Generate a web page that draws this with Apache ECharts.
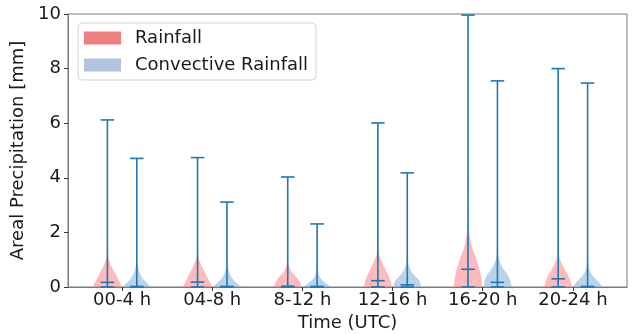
<!DOCTYPE html>
<html>
<head>
<meta charset="utf-8">
<script src="https://cdn.jsdelivr.net/npm/echarts@6/dist/echarts.min.js"></script>
<style>
  html, body { margin: 0; padding: 0; background: #fff; }
  #main { width: 640px; height: 334px; }
</style>
</head>
<body>
<div id="main"></div>
<script>
// time windows
var categories = ['00-4 h', '04-8 h', '8-12 h', '12-16 h', '16-20 h', '20-24 h'];

// extrema + means (mm)
var rainMin = [0, 0, 0, 0, 0, 0];
var rainMax = [6.12, 4.74, 4.03, 6.01, 9.96, 8.0];
var rainMean = [0.17, 0.18, 0.03, 0.23, 0.65, 0.3];
var convMin = [0, 0, 0, 0, 0, 0];
var convMax = [4.71, 3.11, 2.31, 4.18, 7.55, 7.47];
var convMean = [0.02, 0.02, 0.02, 0.08, 0.17, 0.02];

// violin outline: relative half-width at each level (mm)
var densityLevels = [0, 0.1, 0.2, 0.3, 0.4, 0.5, 0.6, 0.8, 1.0, 1.2, 1.5, 2.0, 2.5];
var rainDensity = [
  [1.0, 0.95, 0.86, 0.76, 0.65, 0.54, 0.45, 0.25, 0.1, 0.04, 0.02, 0.01, 0.005],
  [1.0, 0.95, 0.86, 0.76, 0.66, 0.55, 0.46, 0.27, 0.11, 0.04, 0.02, 0.01, 0.005],
  [1.0, 0.93, 0.84, 0.72, 0.55, 0.35, 0.22, 0.09, 0.03, 0.015, 0.01, 0.005, 0],
  [1.0, 0.97, 0.92, 0.86, 0.78, 0.68, 0.58, 0.4, 0.22, 0.09, 0.03, 0.01, 0.005],
  [1.0, 1.0, 0.98, 0.96, 0.93, 0.89, 0.84, 0.72, 0.6, 0.46, 0.25, 0.07, 0.015],
  [1.0, 0.96, 0.9, 0.83, 0.74, 0.63, 0.5, 0.3, 0.14, 0.05, 0.02, 0.01, 0.005]
];
var convDensity = [
  [1.0, 0.82, 0.62, 0.45, 0.32, 0.22, 0.15, 0.07, 0.03, 0.01, 0.005, 0, 0],
  [1.0, 0.8, 0.58, 0.4, 0.27, 0.18, 0.11, 0.05, 0.02, 0.008, 0, 0, 0],
  [1.0, 0.72, 0.45, 0.28, 0.15, 0.08, 0.04, 0.015, 0.005, 0, 0, 0, 0],
  [1.0, 0.96, 0.88, 0.75, 0.55, 0.38, 0.25, 0.1, 0.04, 0.015, 0.005, 0, 0],
  [1.0, 0.98, 0.93, 0.87, 0.78, 0.66, 0.5, 0.28, 0.12, 0.04, 0.015, 0.005, 0],
  [1.0, 0.92, 0.76, 0.56, 0.38, 0.25, 0.15, 0.06, 0.02, 0.01, 0.005, 0, 0]
];

var lineColor = '#1f77b4';
var halfW = 0.155;   // violin half width (x units)
var capHalf = 0.075; // extrema / mean cap half width

function violinRenderer(offset, dens, mins, maxs, means, fill) {
  return function (params, api) {
    var i = api.value(0);
    var pos = i + 1 + offset;
    var d = dens[i];
    var right = [], left = [];
    for (var k = 0; k < densityLevels.length; k++) {
      var y = densityLevels[k];
      right.push(api.coord([pos + halfW * d[k], y]));
      left.unshift(api.coord([pos - halfW * d[k], y]));
    }
    right.push(api.coord([pos, maxs[i]]));
    var poly = right.concat(left);
    var st = { stroke: lineColor, lineWidth: 1.6 };
    function hline(v) {
      var a = api.coord([pos - capHalf, v]);
      var b = api.coord([pos + capHalf, v]);
      return { type: 'line', shape: { x1: a[0], y1: a[1], x2: b[0], y2: b[1] }, style: st };
    }
    var top = api.coord([pos, maxs[i]]);
    var bot = api.coord([pos, mins[i]]);
    return {
      type: 'group',
      children: [
        { type: 'polygon', shape: { points: poly }, style: { fill: fill, stroke: null } },
        { type: 'line', shape: { x1: top[0], y1: top[1], x2: bot[0], y2: bot[1] }, style: st },
        hline(maxs[i]),
        hline(mins[i]),
        hline(means[i])
      ]
    };
  };
}

var idx = categories.map(function (c, i) { return [i]; });
var chart = echarts.init(document.getElementById('main'));
var font = 'DejaVu Sans';
var fs = 18;

var option = {
  animation: false,
  textStyle: { fontFamily: font },
  grid: {
    left: 68, right: 13, top: 14, bottom: 47,
    outerBoundsMode: 'none', containLabel: false,
    show: true, borderColor: '#7a7a7a', borderWidth: 1, backgroundColor: 'transparent'
  },
  legend: {
    orient: 'vertical',
    left: 78, top: 23,
    icon: 'rect',
    itemWidth: 37, itemHeight: 13, itemGap: 9,
    padding: [6, 8, 6, 6],
    backgroundColor: 'rgba(255,255,255,0.8)',
    borderColor: '#d4d4d4', borderWidth: 1, borderRadius: 4,
    textStyle: { fontFamily: font, fontSize: fs, color: '#1a1a1a', padding: [0, 0, 0, 9] },
    data: [
      { name: 'Rainfall', itemStyle: { color: '#f08080' } },
      { name: 'Convective Rainfall', itemStyle: { color: '#b0c4de' } }
    ]
  },
  xAxis: {
    type: 'value', min: 0.4, max: 6.6,
    name: 'Time (UTC)', nameLocation: 'middle', nameGap: 24,
    nameTextStyle: { fontFamily: font, fontSize: fs, color: '#1a1a1a' },
    axisLine: { lineStyle: { color: '#7a7a7a' } },
    splitLine: { show: false },
    axisTick: { customValues: [1, 2, 3, 4, 5, 6], length: 4, lineStyle: { color: '#333' } },
    axisLabel: {
      customValues: [1, 2, 3, 4, 5, 6], margin: 4,
      fontFamily: font, fontSize: fs, color: '#1a1a1a',
      formatter: function (v) { return categories[Math.round(v) - 1]; }
    }
  },
  yAxis: {
    type: 'value', min: 0, max: 10, interval: 2,
    name: 'Areal Precipitation [mm]', nameLocation: 'middle', nameGap: 34,
    nameTextStyle: { fontFamily: font, fontSize: fs, color: '#1a1a1a' },
    axisLine: { show: true, lineStyle: { color: '#7a7a7a' } },
    splitLine: { show: false },
    axisTick: { show: true, length: 4, lineStyle: { color: '#333' } },
    axisLabel: { margin: 7, fontFamily: font, fontSize: fs, color: '#1a1a1a' }
  },
  series: [
    {
      name: 'Rainfall', type: 'custom',
      itemStyle: { color: '#f08080' },
      renderItem: violinRenderer(-0.163, rainDensity, rainMin, rainMax, rainMean, 'rgba(255,120,120,0.5)'),
      data: idx
    },
    {
      name: 'Convective Rainfall', type: 'custom',
      itemStyle: { color: '#b0c4de' },
      renderItem: violinRenderer(0.163, convDensity, convMin, convMax, convMean, 'rgba(130,175,215,0.55)'),
      data: idx
    }
  ]
};
chart.setOption(option);
</script>
</body>
</html>
